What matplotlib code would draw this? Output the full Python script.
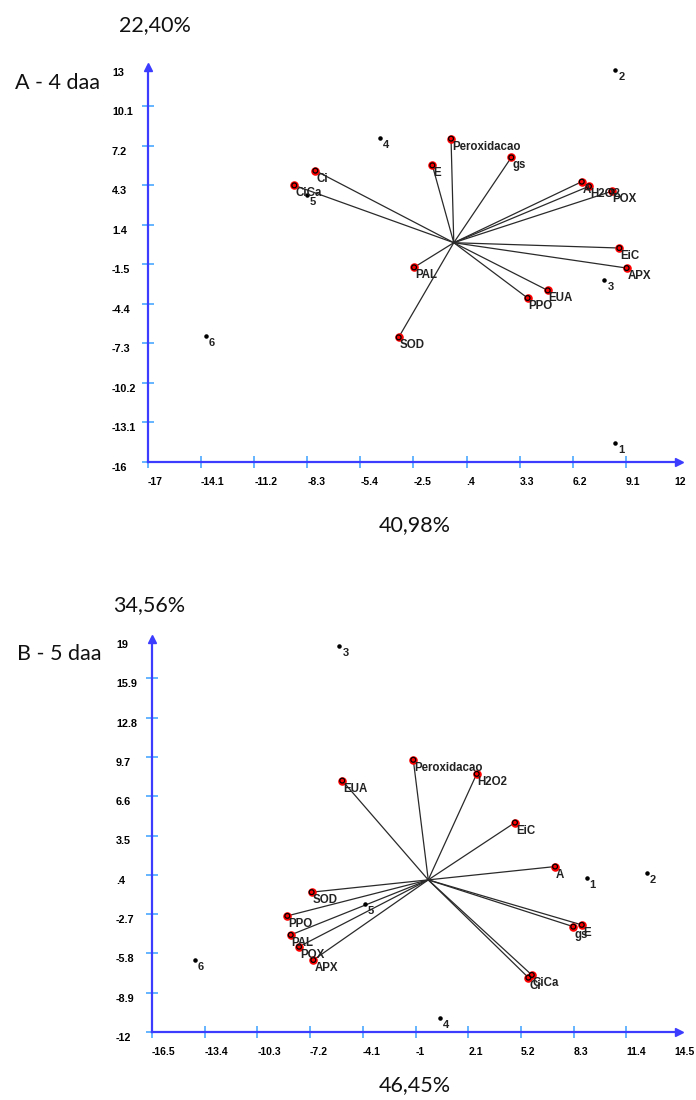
import matplotlib.pyplot as plt

# --- Painel A: 4 daa ---
a_vars = ["Peroxidacao", "gs", "E", "Ci", "CiCa", "A", "H2O2", "POX",
          "EiC", "APX", "EUA", "PPO", "PAL", "SOD"]
a_vx = [-0.45, 2.84, -1.47, -7.86, -9.01, 6.69, 7.08, 8.32, 8.74, 9.14, 4.83, 3.73, -2.47, -3.31]
a_vy = [7.74, 6.36, 5.78, 5.39, 4.31, 4.58, 4.24, 3.87, -0.29, -1.76, -3.40, -3.96, -1.71, -6.85]
a_samples = ["1", "2", "3", "4", "5", "6"]
a_sx = [8.52, 8.53, 7.92, -4.33, -8.33, -13.83]
a_sy = [-14.58, 12.8, -2.62, 7.79, 3.57, -6.73]
a_center = (-0.3, 0.1)
a_xticks = [-17, -14.1, -11.2, -8.3, -5.4, -2.5, 0.4, 3.3, 6.2, 9.1, 12]
a_xlabels = ["-17", "-14.1", "-11.2", "-8.3", "-5.4", "-2.5", ".4", "3.3", "6.2", "9.1", "12"]
a_yticks = [-16, -13.1, -10.2, -7.3, -4.4, -1.5, 1.4, 4.3, 7.2, 10.1, 13]
a_ylabels = ["-16", "-13.1", "-10.2", "-7.3", "-4.4", "-1.5", "1.4", "4.3", "7.2", "10.1", "13"]

# --- Painel B: 5 daa ---
b_vars = ["Peroxidacao", "H2O2", "EUA", "EiC", "A", "gs", "E", "Ci", "CiCa",
          "SOD", "PPO", "PAL", "POX", "APX"]
b_vx = [-1.13, 2.60, -5.31, 4.85, 7.21, 8.28, 8.78, 5.64, 5.84, -7.11, -8.54, -8.34, -7.85, -7.01]
b_vy = [9.47, 8.36, 7.83, 4.52, 1.05, -3.69, -3.55, -7.71, -7.50, -0.97, -2.84, -4.34, -5.27, -6.32]
b_samples = ["1", "2", "3", "4", "5", "6"]
b_sx = [9.07, 12.6, -5.48, 0.46, -3.97, -13.99]
b_sy = [0.13, 0.53, 18.47, -10.87, -1.9, -6.32]
b_center = (-0.25, 0.0)
b_xticks = [-16.5, -13.4, -10.3, -7.2, -4.1, -1, 2.1, 5.2, 8.3, 11.4, 14.5]
b_xlabels = ["-16.5", "-13.4", "-10.3", "-7.2", "-4.1", "-1", "2.1", "5.2", "8.3", "11.4", "14.5"]
b_yticks = [-12, -8.9, -5.8, -2.7, 0.4, 3.5, 6.6, 9.7, 12.8, 15.9, 19]
b_ylabels = ["-12", "-8.9", "-5.8", "-2.7", ".4", "3.5", "6.6", "9.7", "12.8", "15.9", "19"]

AXIS_BLUE = "#3c3cff"
TICK_BLUE = "#3aa0ff"
LBL_FONT = "Liberation Sans"


def draw_panel(ax, names, vx, vy, samples, sx, sy, center,
               xticks, xlabels, yticks, ylabels):
    xmin, xmax = xticks[0], xticks[-1]
    ymin, ymax = yticks[0], yticks[-1]
    ax.set_xlim(xmin, xmax)
    ax.set_ylim(ymin, ymax)

    # vetores das variaveis
    for x, y in zip(vx, vy):
        ax.plot([center[0], x], [center[1], y], color="#2a2a2a", lw=0.9, zorder=2)
    ax.scatter(vx, vy, s=38, color="red", zorder=3, linewidths=0)
    ax.scatter(vx, vy, s=12, facecolor="none", edgecolor="black", linewidths=0.9, zorder=4)
    for name, x, y in zip(names, vx, vy):
        ax.annotate(name, (x, y), xytext=(1, -2), textcoords="offset pixels",
                    ha="left", va="top", fontsize=8.3, fontweight="bold",
                    family=LBL_FONT, color="#222222", zorder=5)

    # amostras
    ax.scatter(sx, sy, s=5, color="black", zorder=3)
    for name, x, y in zip(samples, sx, sy):
        ax.annotate(name, (x, y), xytext=(3, -2), textcoords="offset pixels",
                    ha="left", va="top", fontsize=8, fontweight="bold",
                    family=LBL_FONT, color="#222222", zorder=5)

    # eixos em azul com setas
    for s in ["top", "right"]:
        ax.spines[s].set_visible(False)
    for s in ["left", "bottom"]:
        ax.spines[s].set_color(AXIS_BLUE)
        ax.spines[s].set_linewidth(1.6)
    ax.plot([xmin], [ymax], marker="^", ms=6, color=AXIS_BLUE, clip_on=False, zorder=6)
    ax.plot([xmax], [ymin], marker=">", ms=6, color=AXIS_BLUE, clip_on=False, zorder=6)

    ax.set_xticks(xticks[:-1])
    ax.set_yticks(yticks[:-1])
    ax.tick_params(direction="inout", length=9, width=1.1, color=TICK_BLUE,
                   labelleft=False, labelbottom=False)

    for i, (t, lbl) in enumerate(zip(xticks, xlabels)):
        dx = -5 if i == len(xticks) - 1 else 0  # ultimo rotulo encostado na borda
        ax.annotate(lbl, (t, ymin), xytext=(dx, -20), textcoords="offset pixels",
                    ha="left", va="center", fontsize=7.5, fontweight="bold",
                    family=LBL_FONT, annotation_clip=False)
    for t, lbl in zip(yticks, ylabels):
        ax.annotate(lbl, (xmin, t), xytext=(-36, -6), textcoords="offset pixels",
                    ha="left", va="center", fontsize=7.8, fontweight="bold",
                    family=LBL_FONT, annotation_clip=False)


fig = plt.figure(figsize=(6.96, 11), dpi=100)
W, H = 696, 1100

axA = fig.add_axes([148 / W, 1 - 462 / H, 531 / W, 395 / H])
draw_panel(axA, a_vars, a_vx, a_vy, a_samples, a_sx, a_sy, a_center,
           a_xticks, a_xlabels, a_yticks, a_ylabels)

axB = fig.add_axes([152 / W, 1 - 1032 / H, 527 / W, 393 / H])
draw_panel(axB, b_vars, b_vx, b_vy, b_samples, b_sx, b_sy, b_center,
           b_xticks, b_xlabels, b_yticks, b_ylabels)

TF = dict(family="Lato", fontsize=15.5, color="#111111")
fig.text(155 / W, 1 - 25 / H, "22,40%", ha="center", va="center", **TF)
fig.text(15 / W, 1 - 83 / H, "A - 4 daa", ha="left", va="center", **TF)
fig.text(415 / W, 1 - 525 / H, "40,98%", ha="center", va="center", **TF)
fig.text(149 / W, 1 - 605 / H, "34,56%", ha="center", va="center", **TF)
fig.text(17 / W, 1 - 654 / H, "B - 5 daa", ha="left", va="center", **TF)
fig.text(415 / W, 1 - 1085 / H, "46,45%", ha="center", va="center", **TF)

fig.savefig("out.png", dpi=100)
